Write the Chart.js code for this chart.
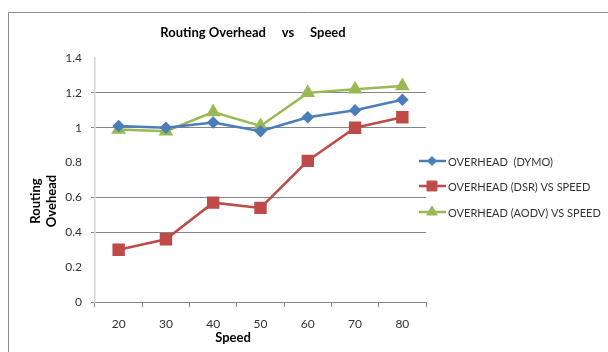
<!DOCTYPE html>
<html>
<head>
<meta charset="utf-8">
<script src="https://cdn.jsdelivr.net/npm/chart.js@4/dist/chart.umd.min.js"></script>
<style>
  html, body { margin: 0; padding: 0; background: #fff; overflow: hidden; }
  #wrap { width: 608px; height: 352px; }
</style>
</head>
<body>
<div id="wrap"><canvas id="overhead"></canvas></div>
<script>
var speeds = ["20", "30", "40", "50", "60", "70", "80"];
var dymo = [1.01, 1.00, 1.03, 0.98, 1.06, 1.10, 1.16];
var dsr = [0.30, 0.36, 0.57, 0.54, 0.81, 1.00, 1.06];
var aodv = [0.99, 0.98, 1.09, 1.01, 1.20, 1.22, 1.24];
var seriesNames = ["OVERHEAD  (DYMO)", "OVERHEAD (DSR) VS SPEED", "OVERHEAD (AODV) VS SPEED"];
var yTicks = [0, 0.2, 0.4, 0.6, 0.8, 1, 1.2, 1.4];

var FONT = "Lato, 'Open Sans', sans-serif";

// frame, titles and legend, placed like the Excel original
var decor = {
  id: "decor",
  beforeDraw: function(chart) {
    var ctx = chart.ctx;
    ctx.save();
    ctx.fillStyle = "#fff";
    ctx.fillRect(0, 0, chart.width, chart.height);
    ctx.strokeStyle = "#8c8c8c";
    ctx.lineWidth = 1;
    ctx.beginPath();
    ctx.moveTo(8.5, chart.height);
    ctx.lineTo(8.5, 12.5);
    ctx.lineTo(chart.width, 12.5);
    ctx.stroke();
    ctx.restore();
  },
  afterDraw: function(chart) {
    var ctx = chart.ctx;
    ctx.save();
    ctx.fillStyle = "#000";
    ctx.textAlign = "center";
    ctx.textBaseline = "middle";
    ctx.font = "bold 13px " + FONT;
    ctx.fillText("Routing Overhead     vs     Speed", 253, 33);
    ctx.fillText("Speed", 233, 338);

    ctx.translate(44, 201);
    ctx.rotate(-Math.PI / 2);
    ctx.fillText("Routing", 0, -8);
    ctx.fillText("Ovehead", 0, 8);
    ctx.restore();

    ctx.save();
    var rowY = [161, 186, 212];
    chart.data.datasets.forEach(function(ds, i) {
      var y = rowY[i];
      ctx.strokeStyle = ds.borderColor;
      ctx.lineWidth = 2.5;
      ctx.beginPath();
      ctx.moveTo(419, y);
      ctx.lineTo(446, y);
      ctx.stroke();
      ctx.fillStyle = ds.pointBackgroundColor;
      ctx.strokeStyle = ds.pointBorderColor;
      ctx.lineWidth = 1;
      Chart.helpers.drawPoint(ctx, {
        pointStyle: ds.pointStyle,
        radius: ds.pointRadius,
        borderWidth: 1
      }, 432, y);
      ctx.fillStyle = "#333";
      ctx.font = "11px " + FONT;
      ctx.textAlign = "left";
      ctx.textBaseline = "middle";
      ctx.fillText(ds.label, 448, y + 1);
    });
    ctx.restore();
  }
};

function series(label, data, color, style, radius) {
  return {
    label: label,
    data: data,
    borderColor: color,
    backgroundColor: color,
    pointBackgroundColor: color,
    pointBorderColor: color,
    pointStyle: style,
    pointRadius: radius,
    pointHoverRadius: radius,
    borderWidth: 2.5,
    tension: 0
  };
}

new Chart(document.getElementById("overhead"), {
  type: 'line',
  data: {
    labels: speeds,
    datasets: [
      series(seriesNames[0], dymo, "#4a7ebb", "rectRot", 4.5),
      series(seriesNames[1], dsr, "#be4b48", "rect", 7),
      series(seriesNames[2], aodv, "#98b954", "triangle", 6)
    ]
  },
  options: {
    responsive: true,
    maintainAspectRatio: false,
    animation: false,
    layout: {
      padding: { left: 0, right: 182, top: 58, bottom: 0 }
    },
    plugins: {
      legend: { display: false },
      title: { display: false },
      tooltip: { enabled: false }
    },
    scales: {
      x: {
        offset: true,
        afterFit: function(s) { s.height = 50; },
        border: { color: "#868686", width: 1 },
        grid: {
          offset: true,
          drawOnChartArea: false,
          drawTicks: true,
          tickLength: 5,
          color: "#868686"
        },
        ticks: {
          padding: 10,
          color: "#333",
          font: { family: FONT, size: 12 }
        }
      },
      y: {
        min: 0,
        max: 1.4,
        afterFit: function(s) { s.width = 95; },
        afterBuildTicks: function(s) {
          s.ticks = yTicks.map(function(v) { return { value: v }; });
        },
        border: { color: "#d4d4d4", width: 1.5 },
        grid: {
          tickLength: 4,
          color: function(c) {
            var v = c.tick ? Math.round(c.tick.value * 10) / 10 : 0;
            return (v === 0.2 || v === 0.8 || v === 1.4) ? "rgba(0,0,0,0)" : "#868686";
          }
        },
        ticks: {
          padding: 9,
          color: "#333",
          font: { family: FONT, size: 12 },
          callback: function(v) { return String(Math.round(v * 10) / 10); }
        }
      }
    }
  },
  plugins: [decor]
});
</script>
</body>
</html>
